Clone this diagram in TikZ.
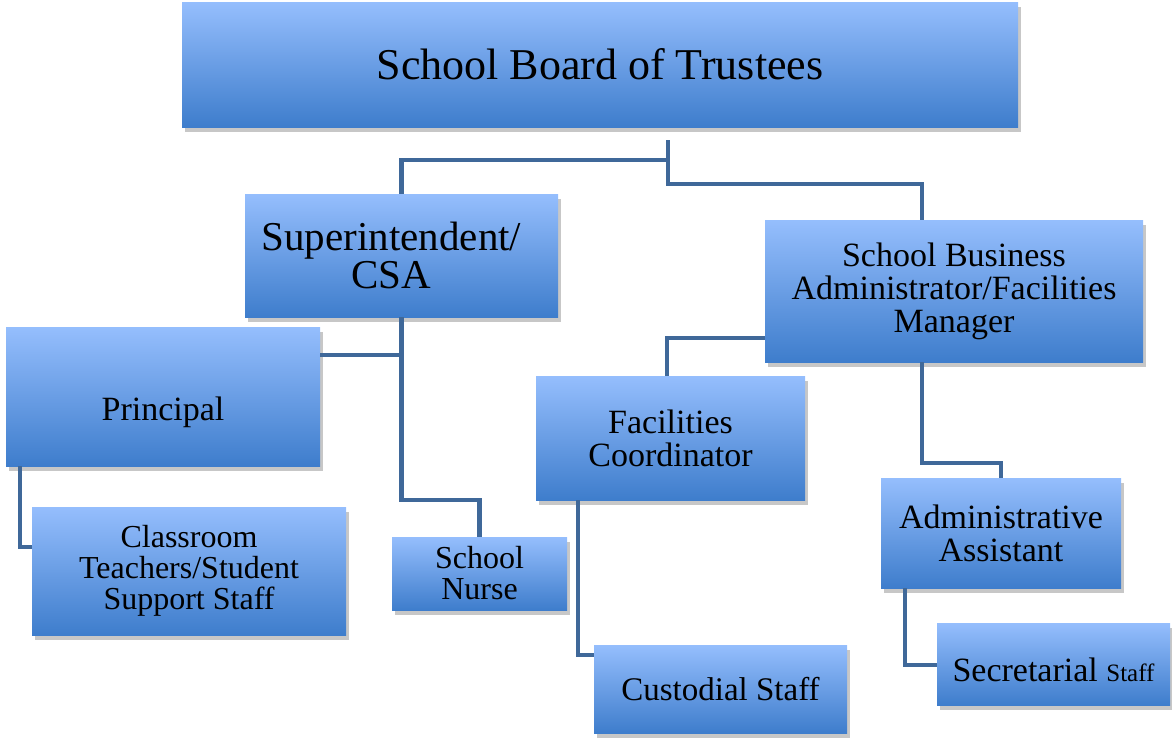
\documentclass[tikz,border=0pt]{standalone}
\usepackage{fontspec}
\setmainfont{Liberation Serif}
\usetikzlibrary{shadows}
\definecolor{boxtop}{HTML}{95BEFD}
\definecolor{boxbot}{HTML}{3E7DCC}
\definecolor{linkblue}{HTML}{3F6899}
\newcommand{\fs}[2]{\fontsize{#1}{#2}\selectfont}

\begin{document}
\begin{tikzpicture}[x=1pt,y=-1pt,
    post/.style={rectangle,top color=boxtop,bottom color=boxbot,align=center,inner sep=2pt,font=\fs{34}{33},
        drop shadow={shadow xshift=3pt,shadow yshift=-5pt,fill=black,opacity=.22}},
    link/.style={draw=linkblue,line width=4.5pt}]
        \useasboundingbox (0,0) rectangle (1172,740);

        \node[post,minimum width=836pt,minimum height=125pt,font=\fs{44}{44}](board)at(600,64.5){School Board of Trustees};
        \node[post,minimum width=313pt,minimum height=123pt,font=\fs{41}{38}](super)at(401.5,255.5){Superintendent/\hspace*{20pt}\\CSA\hspace*{20pt}};
        \node[post,minimum width=378pt,minimum height=142pt](sba)at(954,291){School Business\\Administrator/Facilities\\Manager};
        \node[post,minimum width=314pt,minimum height=139pt,text height=54pt,text depth=7pt](principal)at(163,396.5){Principal};
        \node[post,minimum width=314pt,minimum height=128pt,font=\fs{32}{31}](classroom)at(189,571){Classroom\\Teachers/Student\\Support Staff};
        \node[post,minimum width=175pt,minimum height=73pt,font=\fs{32}{31}](nurse)at(479.5,573.5){School\\Nurse};
        \node[post,minimum width=269pt,minimum height=124pt](fac)at(670.5,438){Facilities\\Coordinator};
        \node[post,minimum width=253pt,minimum height=88pt,font=\fs{33}{33}](custodial)at(720.5,689){Custodial Staff};
        \node[post,minimum width=240pt,minimum height=110pt](admin)at(1001,533){Administrative\\Assistant};
        \node[post,minimum width=233pt,minimum height=82pt,text height=41pt,text depth=7pt](secretarial)at(1053.5,664){Secretarial {\fs{25}{25}Staff}};

        \coordinate(split)at(668,140);
        \draw[link](split)--++(0,20)-|(super.north);
        \draw[link](split)--++(0,44)-|([xshift=-32pt]sba.north);
        \draw[link](super.south)--++(0,183)-|(nurse.north);
        \draw[link]([yshift=41.5pt]principal.east)-|(super.south);
        \draw[link]([xshift=14pt]principal.south west)|-([yshift=24pt]classroom.west);
        \draw[link]([yshift=-47pt]sba.west)-|([xshift=-3.5pt]fac.north);
        \draw[link]([xshift=-32pt]sba.south)--++(0,101)-|(admin.north);
        \draw[link]([xshift=-92.5pt]fac.south)|-([yshift=34pt]custodial.west);
        \draw[link]([xshift=24pt]admin.south west)|-([yshift=-1pt]secretarial.west);
    \end{tikzpicture}
\end{document}
